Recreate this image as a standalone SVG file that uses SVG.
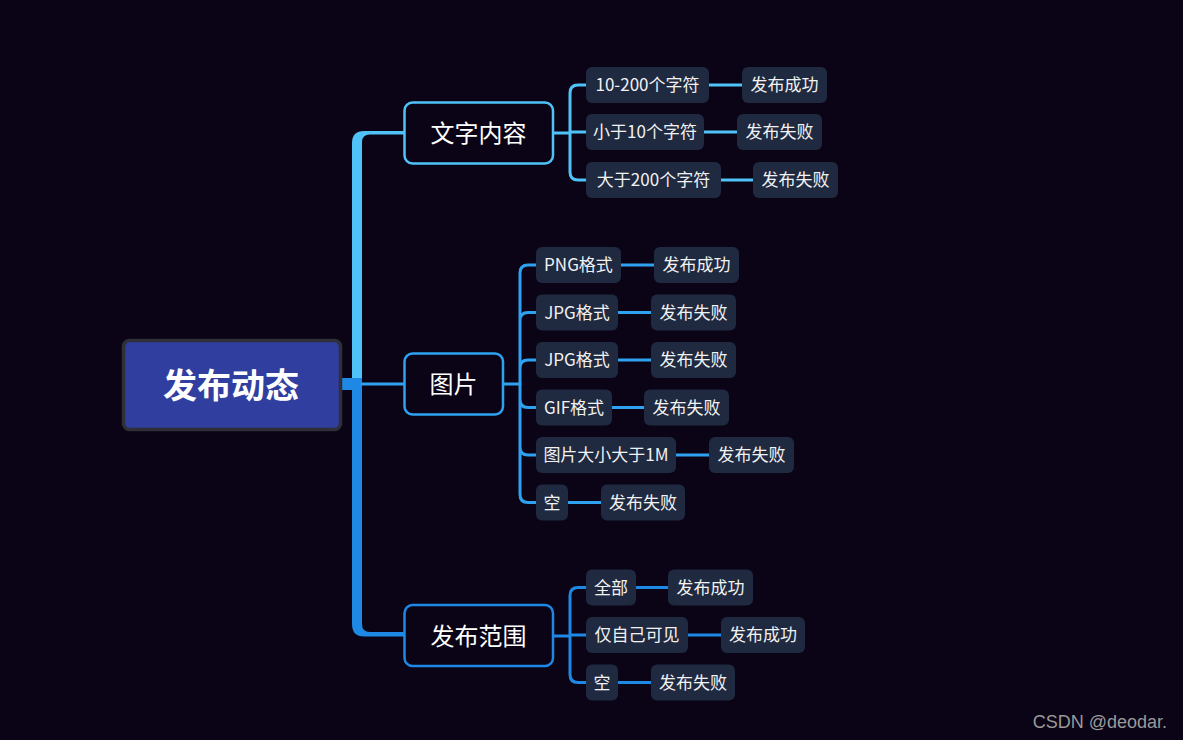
<svg xmlns="http://www.w3.org/2000/svg" width="1183" height="740" viewBox="0 0 1183 740">
<style>
.bg{fill:#0a0416}
.l1{fill:#0a0416;stroke-width:2.5}
.l1t{font-family:"Noto Sans CJK SC",sans-serif;font-size:24px;fill:#fff;text-anchor:middle;dominant-baseline:central;transform:translateY(-2px)}
.l2{fill:#1f2940}
.t{font-family:"Noto Sans CJK SC",sans-serif;font-size:17px;fill:#f2f2f2;text-anchor:middle;dominant-baseline:central;transform:translateY(-1.5px)}
.c{fill:none;stroke-width:3;stroke-linecap:round}
.cyan{stroke:#4fc3f7}
.mid{stroke:#2ea2f0}
.blue{stroke:#1e88e5}
</style>
<rect class="bg" x="0" y="0" width="1183" height="740"/>

<g id="connectors">
  <path d="M352,380 V143 Q352,131 364,131 H404 V134.5 H370 Q362,134.5 362,142 V380 Z" fill="#4fc3f7"/>
  <path d="M352,378 V624 Q352,636.5 364,636.5 H404 V632 H370 Q362,632 362,624 V378 Z" fill="#1e88e5"/>
  <rect x="342" y="378" width="20" height="12" fill="#1e88e5"/>
  <path class="c mid" d="M362,384 H404"/>
  <path class="c cyan" d="M553,133 H570 M586,85 H578 Q570,85 570,93 V172 Q570,180 578,180 H586 M570,132 H586"/>
  <path class="c cyan" d="M709,85 H742 M704,132 H737 M721,180 H753"/>
  <path class="c mid" d="M503,384 H520"/>
  <path class="c mid" d="M520,384 V273 Q520,265 528,265 H536 M520,384 V320.5 Q520,312.5 528,312.5 H536 M520,384 V368 Q520,360 528,360 H536 M520,384 V399.5 Q520,407.5 528,407.5 H536 M520,384 V447 Q520,455 528,455 H536 M520,384 V494.5 Q520,502.5 528,502.5 H536"/>
  <path class="c mid" d="M621,265 H654 M618,312.5 H651 M618,360 H651 M612,407.5 H644 M676,455 H709 M568,502.5 H601"/>
  <path class="c blue" d="M553,636 H570 M586,587.5 H578 Q570,587.5 570,595.5 V674.5 Q570,682.5 578,682.5 H586 M570,635 H586"/>
  <path class="c blue" d="M636,587.5 H668 M688,635 H721 M618,682.5 H651"/>
</g>

<g id="root">
  <rect x="123.5" y="340.5" width="217" height="89" rx="6" fill="#303f9f" stroke="#2f2f38" stroke-width="3.5"/>
  <text x="231" y="383" font-family="'Noto Sans CJK SC',sans-serif" font-size="34" font-weight="bold" fill="#fff" text-anchor="middle" dominant-baseline="central">发布动态</text>
</g>

<g id="n-text">
  <rect class="l1" x="404.5" y="102.5" width="148.5" height="61" rx="8" stroke="#4fc3f7"/>
  <text class="l1t" x="478.5" y="133">文字内容</text>
</g>
<g id="n-pic">
  <rect class="l1" x="404.5" y="353.5" width="98.5" height="61" rx="8" stroke="#2ea2f0"/>
  <text class="l1t" x="453.5" y="384">图片</text>
</g>
<g id="n-range">
  <rect class="l1" x="404.5" y="605" width="148.5" height="61" rx="8" stroke="#1e88e5"/>
  <text class="l1t" x="478.5" y="636">发布范围</text>
</g>

<g id="t1"><rect class="l2" x="586" y="67" width="123" height="36" rx="6"/><text class="t" x="647.5" y="85">10-200个字符</text></g>
<g id="t1r"><rect class="l2" x="742" y="67" width="85" height="36" rx="6"/><text class="t" x="784.5" y="85">发布成功</text></g>
<g id="t2"><rect class="l2" x="586" y="114" width="118" height="36" rx="6"/><text class="t" x="645" y="132">小于10个字符</text></g>
<g id="t2r"><rect class="l2" x="737" y="114" width="85" height="36" rx="6"/><text class="t" x="779.5" y="132">发布失败</text></g>
<g id="t3"><rect class="l2" x="586" y="162" width="135" height="36" rx="6"/><text class="t" x="653.5" y="180">大于200个字符</text></g>
<g id="t3r"><rect class="l2" x="753" y="162" width="85" height="36" rx="6"/><text class="t" x="795.5" y="180">发布失败</text></g>

<g id="p1"><rect class="l2" x="536" y="247" width="85" height="36" rx="6"/><text class="t" x="578.5" y="265">PNG格式</text></g>
<g id="p1r"><rect class="l2" x="654" y="247" width="85" height="36" rx="6"/><text class="t" x="696.5" y="265">发布成功</text></g>
<g id="p2"><rect class="l2" x="536" y="294.5" width="82" height="36" rx="6"/><text class="t" x="577" y="312.5">JPG格式</text></g>
<g id="p2r"><rect class="l2" x="651" y="294.5" width="85" height="36" rx="6"/><text class="t" x="693.5" y="312.5">发布失败</text></g>
<g id="p3"><rect class="l2" x="536" y="342" width="82" height="36" rx="6"/><text class="t" x="577" y="360">JPG格式</text></g>
<g id="p3r"><rect class="l2" x="651" y="342" width="85" height="36" rx="6"/><text class="t" x="693.5" y="360">发布失败</text></g>
<g id="p4"><rect class="l2" x="536" y="389.5" width="76" height="36" rx="6"/><text class="t" x="574" y="407.5">GIF格式</text></g>
<g id="p4r"><rect class="l2" x="644" y="389.5" width="85" height="36" rx="6"/><text class="t" x="686.5" y="407.5">发布失败</text></g>
<g id="p5"><rect class="l2" x="536" y="437" width="140" height="36" rx="6"/><text class="t" x="606" y="455">图片大小大于1M</text></g>
<g id="p5r"><rect class="l2" x="709" y="437" width="85" height="36" rx="6"/><text class="t" x="751.5" y="455">发布失败</text></g>
<g id="p6"><rect class="l2" x="536" y="484.5" width="32" height="36" rx="6"/><text class="t" x="552" y="502.5">空</text></g>
<g id="p6r"><rect class="l2" x="601" y="484.5" width="84" height="36" rx="6"/><text class="t" x="643" y="502.5">发布失败</text></g>

<g id="r1"><rect class="l2" x="586" y="569.5" width="50" height="36" rx="6"/><text class="t" x="611" y="587.5">全部</text></g>
<g id="r1r"><rect class="l2" x="668" y="569.5" width="85" height="36" rx="6"/><text class="t" x="710.5" y="587.5">发布成功</text></g>
<g id="r2"><rect class="l2" x="586" y="617" width="102" height="36" rx="6"/><text class="t" x="637" y="635">仅自己可见</text></g>
<g id="r2r"><rect class="l2" x="721" y="617" width="84" height="36" rx="6"/><text class="t" x="763" y="635">发布成功</text></g>
<g id="r3"><rect class="l2" x="586" y="664.5" width="32" height="36" rx="6"/><text class="t" x="602" y="682.5">空</text></g>
<g id="r3r"><rect class="l2" x="651" y="664.5" width="84" height="36" rx="6"/><text class="t" x="693" y="682.5">发布失败</text></g>

<text x="1167" y="728" font-family="'Liberation Sans',Arial,sans-serif" font-size="18" fill="#9a9a9a" text-anchor="end">CSDN @deodar.</text>
</svg>
